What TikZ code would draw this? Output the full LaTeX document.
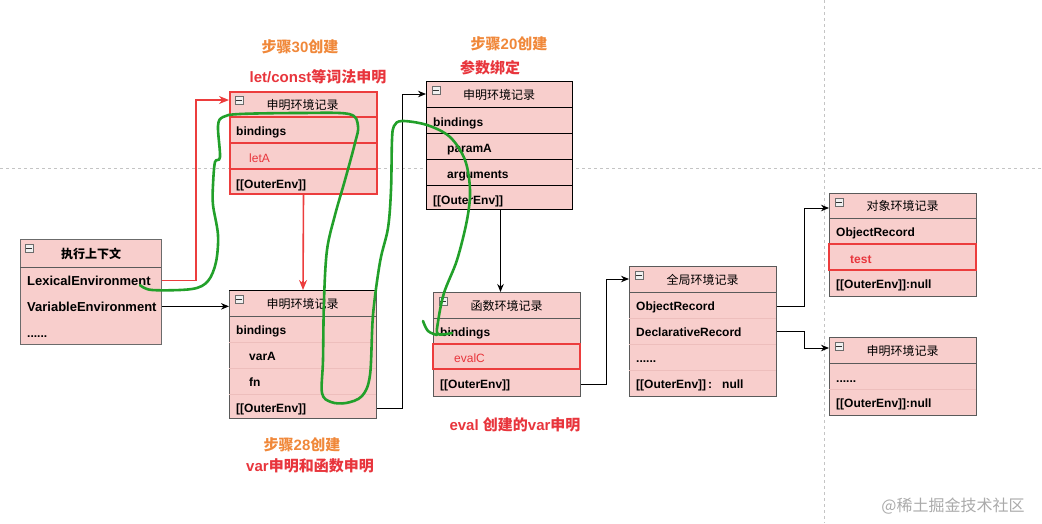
\documentclass[tikz,border=0pt]{standalone}
\usepackage{fontspec}
\setmainfont{Liberation Sans}
\newfontfamily\cjk{Noto Sans CJK SC}
\usetikzlibrary{arrows.meta}
\definecolor{pinkfill}{HTML}{F8CECC}
\definecolor{redc}{HTML}{EC3D3D}
\definecolor{redtxt}{HTML}{E8353C}
\definecolor{orangetxt}{HTML}{F0883A}
\definecolor{greenc}{HTML}{22A02A}
\definecolor{gridc}{HTML}{C4C4C4}
\definecolor{framec}{HTML}{5A5A5A}
\definecolor{sepc}{HTML}{EDBEBC}
\definecolor{wmc}{HTML}{AAAAAA}
\newcommand\rowsize{\fontsize{12}{14}\selectfont}
\newcommand\labsize{\fontsize{15}{18}\selectfont}
\tikzset{
  envframe/.style={draw=framec, line width=1pt, fill=pinkfill, anchor=north west, inner sep=0pt},
  redframe/.style={envframe, draw=redc, line width=2pt},
  rowlab/.style={anchor=base west, inner sep=0pt, font=\rowsize\bfseries},
  redrow/.style={anchor=base west, inner sep=0pt, font=\rowsize, text=redtxt},
  title/.style={inner sep=0pt, font=\rowsize\cjk},
  softsep/.style={draw=sepc, line width=0.8pt},
  hsep/.style={draw=framec, line width=1pt},
  redsep/.style={draw=redc, line width=2pt},
  redcell/.style={draw=redc, line width=1.8pt},
  conn/.style={draw=black, line width=1pt, -{Stealth[length=8pt,width=6.5pt]}},
  redconn/.style={draw=redc, line width=1.6pt, -{Stealth[length=10pt,width=8pt]}},
  greenpen/.style={draw=greenc, line width=2.6pt, line cap=round, line join=round},
  steplab/.style={inner sep=0pt, font=\labsize\bfseries, text=orangetxt},
  notelab/.style={inner sep=0pt, font=\labsize\bfseries, text=redtxt},
  icon/.style={draw=gray!85!black, fill=gray!12, line width=0.6pt, minimum width=8pt, minimum height=8pt, inner sep=0pt,
    path picture={\draw[line width=0.9pt, black!80] ([xshift=-2.6pt]path picture bounding box.center) -- ([xshift=2.6pt]path picture bounding box.center);}},
  gridline/.style={draw=gridc, line width=0.8pt, dash pattern=on 3pt off 3pt}
}
\begin{document}
\begin{tikzpicture}[x=1pt, y=-1pt]
\useasboundingbox (0,0) rectangle (1042,523);
% background guide lines
\draw[gridline] (0,168) -- (1042,168);
\draw[gridline] (824,0) -- (824,523);

% labels
\node[steplab] (l30) at (300,47) {{\cjk 步骤}30{\cjk 创建}};
\node[notelab] (llet) at (318,77) {let/const{\cjk 等词法申明}};
\node[steplab] (l20) at (509,44) {{\cjk 步骤}20{\cjk 创建}};
\node[notelab] (lparam) at (490,68) {{\cjk 参数绑定}};
\node[steplab] (l28) at (302,445) {{\cjk 步骤}28{\cjk 创建}};
\node[notelab] (lvar) at (310,466) {var{\cjk 申明和函数申明}};
\node[notelab] (leval) at (515,425) {eval {\cjk 创建的}var{\cjk 申明}};
\node[inner sep=0pt, font=\fontsize{16}{18}\selectfont\cjk, text=wmc] (wm) at (953,506) {@稀土掘金技术社区};

% execution context
\node[envframe, draw=framec!90, minimum width=141pt, minimum height=105pt] (ec) at (20,239) {};
\draw[hsep] (20,267) -- (161,267);
\node[icon] (i0) at (29,248) {};
\node[title, font=\rowsize\cjk\bfseries] (ect) at (91,254) {执行上下文};
\node[rowlab, font=\fontsize{13}{15}\selectfont\bfseries] (ecl) at (27,285) {LexicalEnvironment};
\node[rowlab, font=\fontsize{13}{15}\selectfont\bfseries] (ecv) at (27,311) {VariableEnvironment};
\node[rowlab] (ecd) at (27,337) {......};

% box 1: let/const declarative record
\node[redframe, minimum width=147pt, minimum height=102pt] (b1) at (229,91) {};
\draw[redsep] (229,117) -- (376,117);
\draw[redsep] (229,143) -- (376,143);
\draw[redsep] (229,168.5) -- (376,168.5);
\node[icon] (i1) at (239,100) {};
\node[title] (b1t) at (302.5,104.5) {申明环境记录};
\node[rowlab] (b1a) at (236,135) {bindings};
\node[redrow] (b1b) at (249,162) {letA};
\node[rowlab] (b1c) at (236,188) {[[OuterEnv]]};

% box 2: parameter declarative record
\node[envframe, draw=black, minimum width=146pt, minimum height=128pt] (b2) at (426,81) {};
\draw[hsep, draw=black] (426,107) -- (572,107);
\draw[hsep, draw=black] (426,133) -- (572,133);
\draw[hsep, draw=black] (426,159) -- (572,159);
\draw[hsep, draw=black] (426,185) -- (572,185);
\node[icon] (i2) at (436,90) {};
\node[title] (b2t) at (499,94.5) {申明环境记录};
\node[rowlab] (b2a) at (433,126) {bindings};
\node[rowlab] (b2b) at (447,152) {paramA};
\node[rowlab] (b2c) at (447,178) {arguments};
\node[rowlab] (b2d) at (433,204) {[[OuterEnv]]};

% box 3: var declarative record
\node[envframe, minimum width=147pt, minimum height=128pt] (b3) at (229,290) {};
\draw[draw=black, line width=1pt] (229,290) -- (376,290);
\draw[hsep] (229,316.5) -- (376,316.5);
\draw[softsep] (229,342.5) -- (376,342.5);
\draw[softsep] (229,368) -- (376,368);
\draw[softsep] (229,394) -- (376,394);
\node[icon] (i3) at (239,299) {};
\node[title] (b3t) at (302.5,303.5) {申明环境记录};
\node[rowlab] (b3a) at (236,334) {bindings};
\node[rowlab] (b3b) at (249,360) {varA};
\node[rowlab] (b3c) at (249,386) {fn};
\node[rowlab] (b3d) at (236,412) {[[OuterEnv]]};

% box 4: function environment record
\node[envframe, minimum width=147pt, minimum height=104pt] (b4) at (433,292) {};
\draw[hsep] (433,318) -- (580,318);
\draw[redcell] (433,344) rectangle (580,369);
\node[icon] (i4) at (443,301) {};
\node[title] (b4t) at (506.5,305.5) {函数环境记录};
\node[rowlab] (b4a) at (440,336) {bindings};
\node[redrow] (b4b) at (454,362) {evalC};
\node[rowlab] (b4c) at (440,388) {[[OuterEnv]]};

% box 5: global environment record
\node[envframe, minimum width=147pt, minimum height=130pt] (b5) at (629,266) {};
\draw[hsep] (629,292.5) -- (776,292.5);
\draw[softsep] (629,318) -- (776,318);
\draw[softsep] (629,344) -- (776,344);
\draw[softsep] (629,370) -- (776,370);
\node[icon] (i5) at (639,275) {};
\node[title] (b5t) at (702.5,279.5) {全局环境记录};
\node[rowlab] (b5a) at (636,310) {ObjectRecord};
\node[rowlab] (b5b) at (636,336) {DeclarativeRecord};
\node[rowlab] (b5c) at (636,362) {......};
\node[rowlab] (b5d) at (636,388) {[[OuterEnv]]\,:\ \ \ null};

% box 6: object environment record
\node[envframe, minimum width=147pt, minimum height=103pt] (b6) at (829,193) {};
\draw[hsep] (829,218.5) -- (976,218.5);
\draw[redcell] (829,244) rectangle (976,270);
\node[icon] (i6) at (839,202) {};
\node[title] (b6t) at (902.5,206) {对象环境记录};
\node[rowlab] (b6a) at (836,236) {ObjectRecord};
\node[redrow, font=\rowsize\bfseries] (b6b) at (850,263) {test};
\node[rowlab] (b6c) at (836,288) {[[OuterEnv]]:null};

% box 7: declarative environment record
\node[envframe, minimum width=147pt, minimum height=78pt] (b7) at (829,337) {};
\draw[hsep] (829,363) -- (976,363);
\draw[softsep] (829,389) -- (976,389);
\node[icon] (i7) at (839,346) {};
\node[title] (b7t) at (902.5,351) {申明环境记录};
\node[rowlab] (b7a) at (836,382) {......};
\node[rowlab] (b7b) at (836,407) {[[OuterEnv]]:null};

% connectors
\draw[redconn] (ecl -| ec.east) -- ++(34,0) |- ([yshift=-9pt]b1.north west);
\draw[redconn] (b1.south) -- (b3.north);
\draw[conn] (ecv -| ec.east) -- (ecv -| b3.west);
\draw[conn] (b3d -| b3.east) -- ++(25,0) |- ([yshift=-13pt]b2.north west);
\draw[conn] ([xshift=1pt]b2.south) -- ([xshift=1pt]b2.south |- b4.north);
\draw[conn] (b4c -| b4.east) -- ++(25,0) |- ([yshift=-13pt]b5.north west);
\draw[conn] (b5a -| b5.east) -- ++(27,0) |- ([yshift=-15pt]b6.north west);
\draw[conn] (b5b -| b5.east) -- ++(27,0) |- ([yshift=-11pt]b7.north west);

% freehand green stroke
\draw[greenpen] plot[smooth, tension=0.55] coordinates {
 (140,285) (152,290) (192,289) (208,281) (216,262) (218,235) (213,205) (213,185)
 (215,162) (220,157) (218,126) (223,117) (240,114) (300,113) (349,114) (358,126)
 (355,143) (345,180) (335,215) (327,250) (324,300) (323,360) (322,393) (331,402)
 (346,403) (362,396) (370,375) (373,315) (380,262) (388,228) (391,190) (392,140)
 (394,126) (402,121) (427,125) (450,137) (465,160) (470,190) (467,220) (457,260)
 (444,293) (438,322) (438,334) (452,333)};
\draw[greenpen] plot[smooth, tension=0.6] coordinates {(423,321) (428,331) (437,335)};
\end{tikzpicture}
\end{document}
